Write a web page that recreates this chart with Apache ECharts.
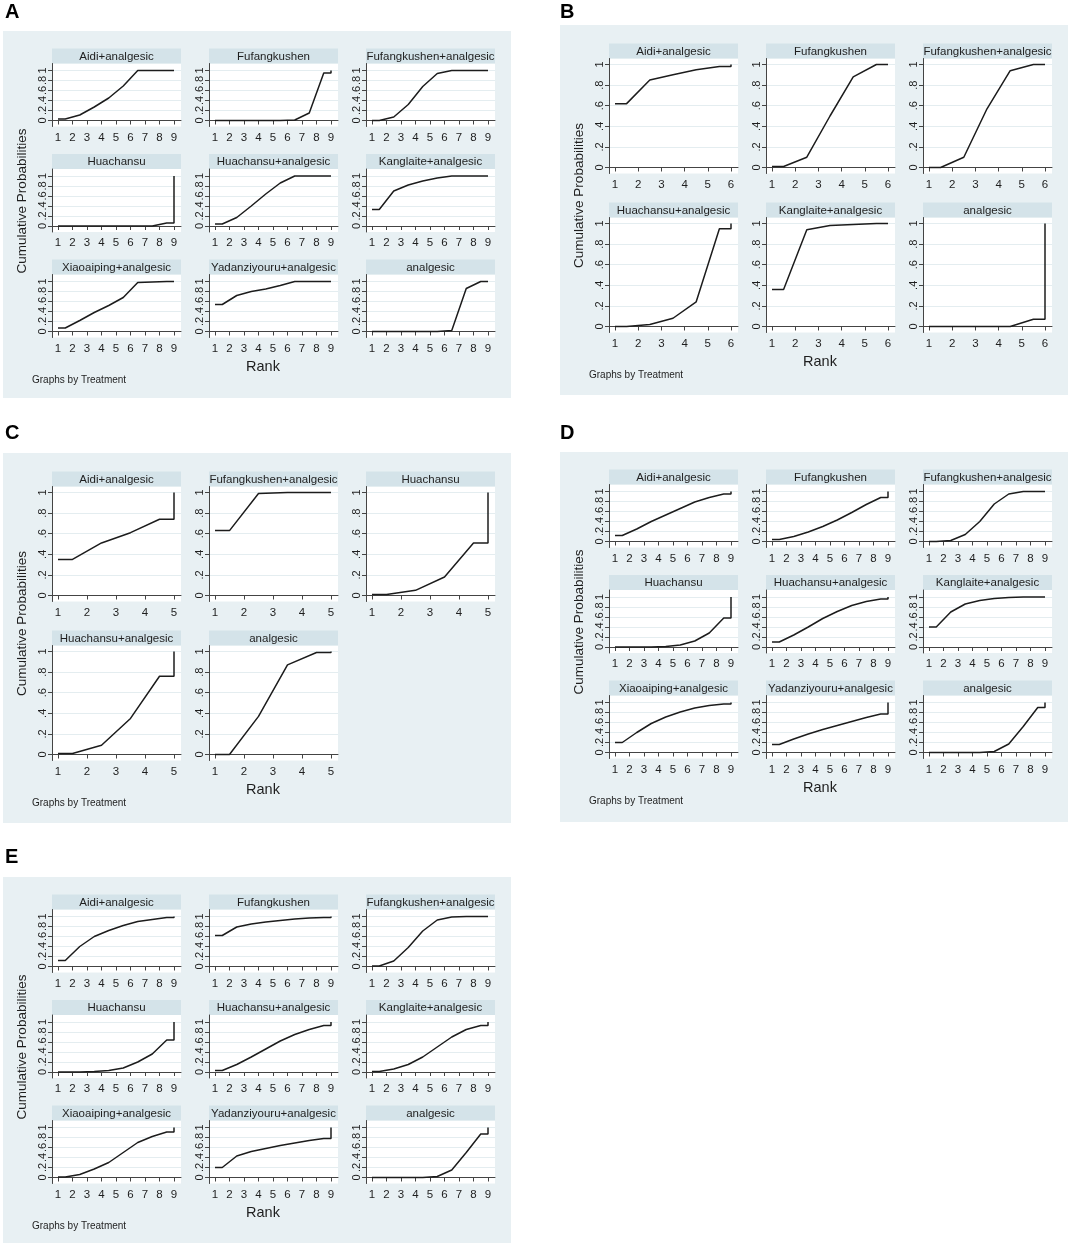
<!DOCTYPE html>
<html>
<head>
<meta charset="utf-8">
<title>Cumulative ranking plots</title>
<script src="https://cdn.jsdelivr.net/npm/echarts@6/dist/echarts.min.js"></script>
<style>
  html, body { margin: 0; padding: 0; background: #fff; }
  #main { width: 1072px; height: 1249px; }
</style>
</head>
<body>
<div id="main"></div>
<script>
// treatments shown in each panel
var treatA = ['Aidi+analgesic', 'Fufangkushen', 'Fufangkushen+analgesic', 'Huachansu', 'Huachansu+analgesic',
  'Kanglaite+analgesic', 'Xiaoaiping+analgesic', 'Yadanziyouru+analgesic', 'analgesic'];
var treatB = ['Aidi+analgesic', 'Fufangkushen', 'Fufangkushen+analgesic', 'Huachansu+analgesic',
  'Kanglaite+analgesic', 'analgesic'];
var treatC = ['Aidi+analgesic', 'Fufangkushen+analgesic', 'Huachansu', 'Huachansu+analgesic', 'analgesic'];
var treatD = treatA;
var treatE = treatA;

// cumulative probability of being within rank 1..k (last rank is always 1)
var cumA = [
  [0.03, 0.11, 0.27, 0.45, 0.69, 1.00, 1.00, 1.00],
  [0.00, 0.00, 0.00, 0.00, 0.00, 0.01, 0.15, 0.95],
  [0.00, 0.07, 0.32, 0.68, 0.94, 1.00, 1.00, 1.00],
  [0.00, 0.00, 0.00, 0.00, 0.00, 0.00, 0.00, 0.06],
  [0.04, 0.17, 0.40, 0.64, 0.86, 1.00, 1.00, 1.00],
  [0.33, 0.70, 0.82, 0.90, 0.96, 1.00, 1.00, 1.00],
  [0.07, 0.22, 0.38, 0.52, 0.68, 0.98, 0.99, 1.00],
  [0.54, 0.72, 0.80, 0.85, 0.92, 1.00, 1.00, 1.00],
  [0.00, 0.00, 0.00, 0.00, 0.00, 0.02, 0.86, 1.00]
];
var cumB = [
  [0.62, 0.85, 0.90, 0.95, 0.98],
  [0.01, 0.10, 0.50, 0.88, 1.00],
  [0.00, 0.10, 0.57, 0.94, 1.00],
  [0.00, 0.02, 0.08, 0.24, 0.95],
  [0.36, 0.94, 0.98, 0.99, 1.00],
  [0.00, 0.00, 0.00, 0.00, 0.07]
];
var cumC = [
  [0.35, 0.51, 0.61, 0.74],
  [0.63, 0.99, 1.00, 1.00],
  [0.01, 0.05, 0.18, 0.51],
  [0.01, 0.09, 0.35, 0.76],
  [0.00, 0.37, 0.87, 0.99]
];
var cumD = [
  [0.12, 0.25, 0.40, 0.53, 0.66, 0.79, 0.88, 0.95],
  [0.04, 0.10, 0.19, 0.30, 0.43, 0.58, 0.74, 0.88],
  [0.00, 0.02, 0.14, 0.40, 0.75, 0.95, 1.00, 1.00],
  [0.00, 0.00, 0.00, 0.01, 0.04, 0.12, 0.28, 0.58],
  [0.10, 0.24, 0.40, 0.57, 0.71, 0.83, 0.91, 0.96],
  [0.40, 0.70, 0.86, 0.93, 0.97, 0.99, 1.00, 1.00],
  [0.20, 0.40, 0.58, 0.71, 0.81, 0.89, 0.94, 0.97],
  [0.16, 0.27, 0.37, 0.46, 0.54, 0.62, 0.70, 0.77],
  [0.00, 0.00, 0.00, 0.00, 0.02, 0.17, 0.52, 0.90]
];
var cumE = [
  [0.12, 0.40, 0.60, 0.72, 0.82, 0.90, 0.94, 0.98],
  [0.62, 0.79, 0.85, 0.89, 0.92, 0.95, 0.97, 0.98],
  [0.01, 0.11, 0.38, 0.71, 0.93, 0.99, 1.00, 1.00],
  [0.00, 0.00, 0.01, 0.03, 0.08, 0.20, 0.36, 0.64],
  [0.03, 0.15, 0.30, 0.46, 0.62, 0.75, 0.85, 0.93],
  [0.01, 0.06, 0.15, 0.30, 0.50, 0.70, 0.85, 0.93],
  [0.01, 0.06, 0.17, 0.30, 0.50, 0.70, 0.82, 0.91],
  [0.20, 0.43, 0.52, 0.58, 0.64, 0.69, 0.74, 0.78],
  [0.00, 0.00, 0.00, 0.00, 0.02, 0.15, 0.50, 0.87]
];
var yTicks = [0, 0.2, 0.4, 0.6, 0.8, 1];

var FONT = '"Liberation Sans", Arial, sans-serif';
var INK = '#1e1e1e';

// panel boxes (page coordinates)
var panels = [
  {letter: 'A', lx: 5,   ly: 12,  box: [3, 31, 508, 367],   ranks: 9, names: treatA, cum: cumA},
  {letter: 'B', lx: 560, ly: 12,  box: [560, 25, 508, 370], ranks: 6, names: treatB, cum: cumB},
  {letter: 'C', lx: 5,   ly: 433, box: [3, 453, 508, 370],  ranks: 5, names: treatC, cum: cumC},
  {letter: 'D', lx: 560, ly: 433, box: [560, 452, 508, 370], ranks: 9, names: treatD, cum: cumD},
  {letter: 'E', lx: 5,   ly: 857, box: [3, 877, 508, 366],  ranks: 9, names: treatE, cum: cumE}
];
var lay3 = {top0: 17.5, step: 105.5, strip: 15, v1: 22, v0: 72, axis: 78};
var lay2 = {top0: 18.5, step: 159, strip: 15, v1: 21, v0: 124, axis: 130};

// stairstep path like stata's sucra plot
function stepPoints(cum, n) {
  var pts = [[1, cum[0]]];
  for (var k = 0; k < cum.length; k++) pts.push([k + 1.5, cum[k]]);
  pts.push([n, cum[cum.length - 1]]);
  pts.push([n, 1]);
  return pts;
}

function fmtY(v) {
  if (v === 0) return '0';
  if (v === 1) return '1';
  return String(v).replace(/^0/, '');
}

var grids = [], xAxes = [], yAxes = [], series = [], graphics = [];

panels.forEach(function (p) {
  var bx = p.box[0], by = p.box[1];
  var L = p.names.length > 6 ? lay3 : lay2;
  var n = p.ranks;
  var rowsUsed = Math.ceil(p.names.length / 3);
  var xTicks = [];
  for (var t = 1; t <= n; t++) xTicks.push(t);

  graphics.push({type: 'rect', z: -10, shape: {x: bx, y: by, width: p.box[2], height: p.box[3]},
    style: {fill: '#e8f0f3'}});
  graphics.push({type: 'text', x: p.lx, y: p.ly, style: {text: p.letter, font: 'bold 20px ' + FONT,
    fill: '#000', textVerticalAlign: 'middle'}});

  var xUnit = 116 / (n - 1);
  var yUnit = L.v0 - L.v1;

  p.names.forEach(function (name, i) {
    var row = Math.floor(i / 3), col = i % 3;
    var left = bx + 49 + col * 157;
    var stripTop = by + L.top0 + row * L.step;
    graphics.push({type: 'rect', shape: {x: left, y: stripTop, width: 129, height: L.strip},
      style: {fill: '#d4e3e9'}});
    graphics.push({type: 'text', x: left + 64.5, y: stripTop + L.strip / 2 + 0.5,
      style: {text: name, font: '11.5px ' + FONT, fill: INK, textAlign: 'center', textVerticalAlign: 'middle'}});

    var gi = grids.length;
    grids.push({left: left, top: stripTop + L.strip, width: 129, height: L.axis - L.strip,
      show: true, backgroundColor: '#fff', borderWidth: 0, containLabel: false});
    xAxes.push({gridIndex: gi, type: 'value', min: 1 - 6 / xUnit, max: n + 7 / xUnit,
      axisLine: {show: true, lineStyle: {color: '#444', width: 1}},
      axisTick: {show: true, length: 4, customValues: xTicks, lineStyle: {color: '#444'}},
      axisLabel: {show: true, margin: 5, fontSize: 11.5, fontFamily: FONT, color: INK, customValues: xTicks},
      splitLine: {show: false}});
    yAxes.push({gridIndex: gi, type: 'value', min: -(L.axis - L.v0) / yUnit, max: 1 + (L.v1 - L.strip) / yUnit,
      axisLine: {show: true, lineStyle: {color: '#444', width: 1}},
      axisTick: {show: true, length: 4, customValues: yTicks, lineStyle: {color: '#444'}},
      axisLabel: {show: true, rotate: 90, margin: 4, fontSize: 11, fontFamily: FONT, color: INK,
        customValues: yTicks, formatter: fmtY},
      splitLine: {show: true, lineStyle: {color: '#e4edf0', width: 1}}});
    series.push({type: 'line', name: name, xAxisIndex: gi, yAxisIndex: gi, data: stepPoints(p.cum[i], n),
      showSymbol: false, symbol: 'none', lineStyle: {color: '#1c1c1c', width: 1.5}, silent: true});
  });

  var firstV1 = by + L.top0 + L.v1;
  var lastV0 = by + L.top0 + (rowsUsed - 1) * L.step + L.v0;
  var lastAxis = by + L.top0 + (rowsUsed - 1) * L.step + L.axis;
  graphics.push({type: 'text', x: bx + 19, y: (firstV1 + lastV0) / 2, rotation: Math.PI / 2,
    style: {text: 'Cumulative Probabilities', font: '13.5px ' + FONT, fill: INK, textAlign: 'center', textVerticalAlign: 'middle'}});
  graphics.push({type: 'text', x: bx + 260, y: lastAxis + 29,
    style: {text: 'Rank', font: '14.5px ' + FONT, fill: INK, textAlign: 'center', textVerticalAlign: 'middle'}});
  graphics.push({type: 'text', x: bx + 29, y: lastAxis + 43,
    style: {text: 'Graphs by Treatment', font: '10px ' + FONT, fill: INK, textVerticalAlign: 'middle'}});
});

var chart = echarts.init(document.getElementById('main'));
chart.setOption({
  animation: false,
  backgroundColor: '#fff',
  grid: grids,
  xAxis: xAxes,
  yAxis: yAxes,
  series: series,
  graphic: graphics
});
</script>
</body>
</html>
